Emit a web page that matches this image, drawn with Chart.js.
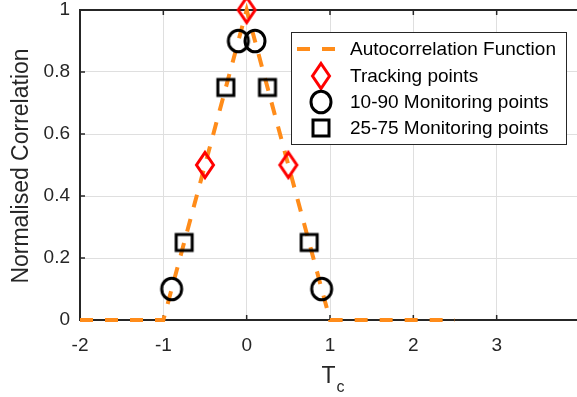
<!DOCTYPE html>
<html>
<head>
<meta charset="utf-8">
<script src="https://cdn.jsdelivr.net/npm/chart.js@4.4.1/dist/chart.umd.min.js"></script>
<style>
  html, body { margin: 0; padding: 0; background: #fff; overflow: hidden; }
  #wrap { width: 585px; height: 397px; }
</style>
</head>
<body>
<div id="wrap"><canvas id="corr-chart" width="585" height="397"></canvas></div>
<script>
// autocorrelation triangle (Tc offsets)
const acfX = [-2, -1, 0, 1, 2.5];
const acfY = [0, 0, 1, 0, 0];

// tracking points: early / prompt / late
const trackX = [-0.5, 0, 0.5];
const trackY = [0.5, 1, 0.5];

// 10-90 monitoring points
const mon1090X = [-0.9, -0.1, 0.1, 0.9];
const mon1090Y = [0.1, 0.9, 0.9, 0.1];

// 25-75 monitoring points
const mon2575X = [-0.75, -0.25, 0.25, 0.75];
const mon2575Y = [0.25, 0.75, 0.75, 0.25];

const seriesNames = ['Autocorrelation Function', 'Tracking points', '10-90 Monitoring points', '25-75 Monitoring points'];
const xTicks = [-2, -1, 0, 1, 2, 3];
const yTicks = [0, 0.2, 0.4, 0.6, 0.8, 1];

const FONT = "'Liberation Sans', Arial, Helvetica, sans-serif";
const TEXT = '#262626';
const ORANGE = 'rgb(255,140,26)';

function pts(xs, ys) {
    return xs.map((x, i) => ({x: x, y: ys[i]}));
}

// marker images (hollow, thick outline)
function makeMarker(kind) {
    const c = document.createElement('canvas');
    c.width = 30; c.height = 32;
    const g = c.getContext('2d');
    g.lineWidth = 3;
    g.lineJoin = 'miter';
    const cx = 15, cy = 16;
    g.beginPath();
    if (kind === 'diamond') {
        g.strokeStyle = '#ff0000';
        g.moveTo(cx, cy - 12.5);
        g.lineTo(cx + 8.5, cy);
        g.lineTo(cx, cy + 12.5);
        g.lineTo(cx - 8.5, cy);
        g.closePath();
    } else if (kind === 'circle') {
        g.strokeStyle = '#000';
        g.ellipse(cx, cy, 10, 10.8, 0, 0, Math.PI * 2);
    } else {
        g.strokeStyle = '#000';
        g.rect(cx - 8, cy - 8, 16, 16);
    }
    g.stroke();
    return c;
}
const diamondImg = makeMarker('diamond');
const circleImg = makeMarker('circle');
const squareImg = makeMarker('square');

// box, inward ticks, axis titles and legend
const decorations = {
    id: 'decorations',
    beforeDatasetsDraw(chart) {
        const ctx = chart.ctx;
        const a = chart.chartArea;
        const xs = chart.scales.x, ys = chart.scales.y;
        ctx.save();
        ctx.strokeStyle = TEXT;
        ctx.lineWidth = 2;
        ctx.beginPath();
        ctx.moveTo(a.left, a.top); ctx.lineTo(a.right, a.top);
        ctx.lineTo(a.right, a.bottom); ctx.lineTo(a.left, a.bottom);
        ctx.closePath();
        ctx.stroke();
        ctx.lineWidth = 1.5;
        ctx.beginPath();
        xTicks.forEach(v => {
            const px = xs.getPixelForValue(v);
            ctx.moveTo(px, a.bottom); ctx.lineTo(px, a.bottom - 5);
            ctx.moveTo(px, a.top); ctx.lineTo(px, a.top + 5);
        });
        yTicks.forEach(v => {
            const py = ys.getPixelForValue(v);
            ctx.moveTo(a.left, py); ctx.lineTo(a.left + 5, py);
        });
        ctx.stroke();
        ctx.restore();
    },
    afterDraw(chart) {
        const ctx = chart.ctx;
        const a = chart.chartArea;
        ctx.save();
        ctx.fillStyle = TEXT;

        // y title
        ctx.font = '23px ' + FONT;
        ctx.textAlign = 'center';
        ctx.textBaseline = 'middle';
        ctx.translate(22, (a.top + a.bottom) / 2 + 1);
        ctx.rotate(-Math.PI / 2);
        ctx.fillText('Normalised Correlation', 0, 0);
        ctx.setTransform(1, 0, 0, 1, 0, 0);

        // x title T with subscript c
        ctx.textAlign = 'left';
        ctx.textBaseline = 'alphabetic';
        ctx.font = '23px ' + FONT;
        const tW = ctx.measureText('T').width;
        ctx.font = '16px ' + FONT;
        const cW = ctx.measureText('c').width;
        const x0 = 333 - (tW + cW + 1) / 2;
        ctx.font = '23px ' + FONT;
        ctx.fillText('T', x0, 383);
        ctx.font = '16px ' + FONT;
        ctx.fillText('c', x0 + tW + 1, 392);

        // legend
        const bx = 291, by = 32, bw = 275, bh = 112;
        ctx.fillStyle = '#fff';
        ctx.fillRect(bx, by, bw, bh);
        ctx.strokeStyle = TEXT;
        ctx.lineWidth = 1;
        ctx.strokeRect(bx + 0.5, by + 0.5, bw, bh);
        const rows = [49, 76, 102, 128];
        ctx.strokeStyle = ORANGE;
        ctx.lineWidth = 4;
        ctx.setLineDash([13, 12]);
        ctx.beginPath();
        ctx.moveTo(297, rows[0]); ctx.lineTo(336, rows[0]);
        ctx.stroke();
        ctx.setLineDash([]);
        const imgs = [null, diamondImg, circleImg, squareImg];
        imgs.forEach((im, i) => {
            if (im) ctx.drawImage(im, 321 - im.width / 2, rows[i] - im.height / 2);
        });
        ctx.fillStyle = '#000';
        ctx.font = '19px ' + FONT;
        ctx.textBaseline = 'middle';
        seriesNames.forEach((s, i) => ctx.fillText(s, 350, rows[i] + 1));
        ctx.restore();
    }
};

const ctx = document.getElementById('corr-chart').getContext('2d');
const corrChart = new Chart(ctx, {
    type: 'scatter',
    data: {
        datasets: [
            {
                label: seriesNames[0],
                data: pts(acfX, acfY),
                showLine: true,
                borderColor: ORANGE,
                borderWidth: 4,
                borderDash: [13, 12],
                pointRadius: 0,
                fill: false,
                order: 10,
                clip: false
            },
            {
                label: seriesNames[1],
                data: pts(trackX, trackY),
                pointStyle: diamondImg,
                order: 1,
                clip: false
            },
            {
                label: seriesNames[2],
                data: pts(mon1090X, mon1090Y),
                pointStyle: circleImg,
                order: 1,
                clip: false
            },
            {
                label: seriesNames[3],
                data: pts(mon2575X, mon2575Y),
                pointStyle: squareImg,
                order: 1,
                clip: false
            }
        ]
    },
    options: {
        responsive: false,
        animation: false,
        layout: { padding: { left: 0, top: 10, right: 1, bottom: 0 } },
        plugins: {
            legend: { display: false },
            tooltip: { enabled: false }
        },
        scales: {
            x: {
                type: 'linear',
                min: -2,
                max: 4,
                afterFit(scale) {
                    scale.height = 77;
                    scale.paddingLeft = 0; scale.paddingRight = 0;
                },
                afterBuildTicks(scale) { scale.ticks = [-2, -1, 0, 1, 2, 3, 4].map(v => ({value: v})); },
                grid: { color: '#dfdfdf', drawTicks: false },
                border: { display: false },
                ticks: {
                    color: TEXT,
                    padding: 14,
                    maxRotation: 0,
                    font: { family: FONT, size: 19 },
                    callback: v => (xTicks.includes(v) ? String(v) : '')
                }
            },
            y: {
                type: 'linear',
                min: 0,
                max: 1,
                afterFit(scale) {
                    scale.width = 80;
                    scale.paddingTop = 0; scale.paddingBottom = 0;
                },
                afterBuildTicks(scale) { scale.ticks = yTicks.map(v => ({value: v})); },
                grid: { color: '#dfdfdf', drawTicks: false },
                border: { display: false },
                ticks: {
                    color: TEXT,
                    padding: 10,
                    font: { family: FONT, size: 19 },
                    callback: v => String(+v.toFixed(1))
                }
            }
        }
    },
    plugins: [decorations]
});
</script>
</body>
</html>
